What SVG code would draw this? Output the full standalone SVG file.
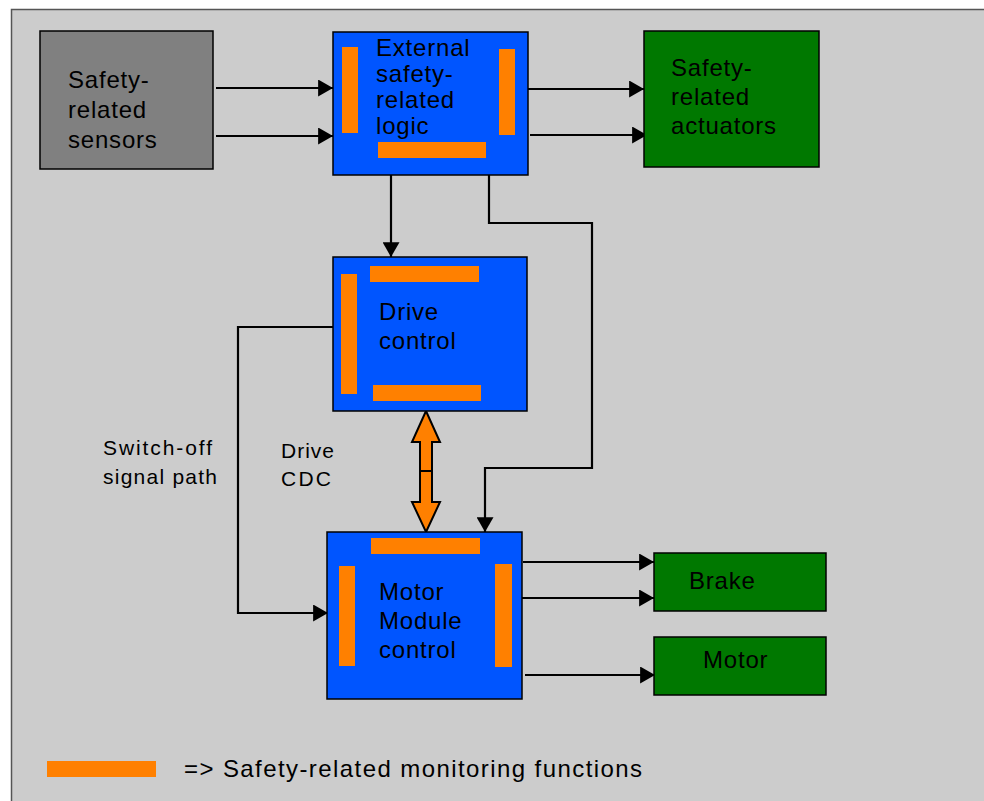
<svg xmlns="http://www.w3.org/2000/svg" width="984" height="801" viewBox="0 0 984 801">
<defs>
<style>
.lbl{font-family:"Liberation Sans",Arial,sans-serif;font-size:24px;fill:#000;letter-spacing:0.8px}
.sm{font-family:"Liberation Sans",Arial,sans-serif;font-size:21px;fill:#000}
.box{stroke:#000;stroke-width:1.5}
.blue{fill:#0055ff}
.green{fill:#007800}
.gray{fill:#808080}
.bar{fill:#ff8000}
.conn{fill:none;stroke:#000;stroke-width:2.2}
</style>
<marker id="ah" markerUnits="userSpaceOnUse" viewBox="0 0 14 16" refX="14" refY="8" markerWidth="15" markerHeight="17" orient="auto">
<path d="M0,0 L14,8 L0,16 z" fill="#000"/>
</marker>
</defs>
<rect width="984" height="801" fill="#fff"/>
<rect x="11.5" y="9.5" width="1000" height="1000" fill="#cccccc" stroke="#555" stroke-width="1.5"/>

<g id="connectors">
<line class="conn" x1="216" y1="88" x2="333" y2="88" marker-end="url(#ah)"/>
<line class="conn" x1="216" y1="136" x2="333" y2="136" marker-end="url(#ah)"/>
<line class="conn" x1="528" y1="89" x2="644" y2="89" marker-end="url(#ah)"/>
<line class="conn" x1="530" y1="135" x2="647" y2="135" marker-end="url(#ah)"/>
<line class="conn" x1="391" y1="175" x2="391" y2="257" marker-end="url(#ah)"/>
<polyline class="conn" points="489,175 489,223 592,223 592,468 485,468 485,532" marker-end="url(#ah)"/>
<polyline class="conn" points="333,327 238,327 238,613 328,613" marker-end="url(#ah)"/>
<line class="conn" x1="523" y1="562" x2="654" y2="562" marker-end="url(#ah)"/>
<line class="conn" x1="519" y1="598" x2="654" y2="598" marker-end="url(#ah)"/>
<line class="conn" x1="525" y1="675" x2="655" y2="675" marker-end="url(#ah)"/>
<polygon points="426,411 440,442 432,442 432,471 420,471 420,442 412,442" fill="#ff8000" stroke="#000" stroke-width="2" stroke-linejoin="miter"/>
<polygon points="426,532 440,502 432,502 432,471 420,471 420,502 412,502" fill="#ff8000" stroke="#000" stroke-width="2" stroke-linejoin="miter"/>
</g>

<g id="sensors">
<rect class="box gray" x="40" y="31" width="173" height="138"/>
<text class="lbl" x="68" y="88">Safety-</text>
<text class="lbl" x="68" y="118">related</text>
<text class="lbl" x="68" y="148">sensors</text>
</g>

<g id="logic">
<rect class="box blue" x="333" y="32" width="195" height="143"/>
<rect class="bar" x="342" y="47" width="16" height="86"/>
<rect class="bar" x="499" y="49" width="16" height="86"/>
<rect class="bar" x="378" y="142" width="108" height="16"/>
<text class="lbl" x="376" y="56">External</text>
<text class="lbl" x="376" y="82">safety-</text>
<text class="lbl" x="376" y="108">related</text>
<text class="lbl" x="376" y="134">logic</text>
</g>

<g id="actuators">
<rect class="box green" x="644" y="31" width="175" height="136"/>
<text class="lbl" x="671" y="76">Safety-</text>
<text class="lbl" x="671" y="105">related</text>
<text class="lbl" x="671" y="134">actuators</text>
</g>

<g id="drive">
<rect class="box blue" x="333" y="257" width="194" height="154"/>
<rect class="bar" x="370" y="266" width="109" height="16"/>
<rect class="bar" x="341" y="274" width="16" height="120"/>
<rect class="bar" x="373" y="385" width="108" height="16"/>
<text class="lbl" x="379" y="320">Drive</text>
<text class="lbl" x="379" y="349">control</text>
</g>

<g id="motormodule">
<rect class="box blue" x="327" y="532" width="195" height="167"/>
<rect class="bar" x="371" y="538" width="109" height="16"/>
<rect class="bar" x="339" y="566" width="16" height="100"/>
<rect class="bar" x="495" y="564" width="17" height="103"/>
<text class="lbl" x="379" y="600">Motor</text>
<text class="lbl" x="379" y="629">Module</text>
<text class="lbl" x="379" y="658">control</text>
</g>

<g id="brake">
<rect class="box green" x="654" y="553" width="172" height="58"/>
<text class="lbl" x="689" y="589">Brake</text>
</g>

<g id="motor">
<rect class="box green" x="654" y="637" width="172" height="58"/>
<text class="lbl" x="703" y="668">Motor</text>
</g>

<g id="labels">
<text class="sm" x="103" y="455" textLength="109" lengthAdjust="spacing">Switch-off</text>
<text class="sm" x="103" y="484" textLength="114" lengthAdjust="spacing">signal path</text>
<text class="sm" x="281" y="458" textLength="53" lengthAdjust="spacing">Drive</text>
<text class="sm" x="281" y="486" textLength="50" lengthAdjust="spacing">CDC</text>
</g>

<g id="legend">
<rect class="bar" x="47" y="761" width="109" height="16"/>
<text class="lbl" x="184" y="777" textLength="458" lengthAdjust="spacing" style="letter-spacing:0">=&gt; Safety-related monitoring functions</text>
</g>
</svg>
